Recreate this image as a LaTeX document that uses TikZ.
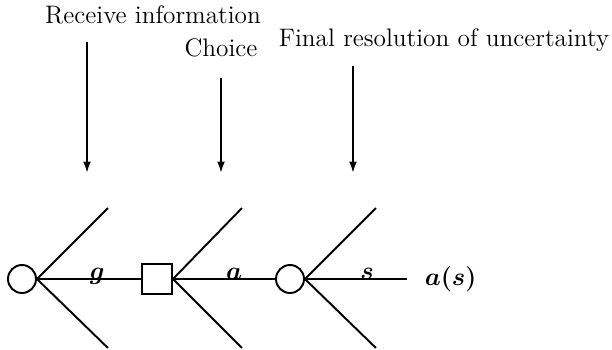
\documentclass[tikz,border=0pt]{standalone}
\usepackage{amsmath}
\usetikzlibrary{arrows.meta, positioning, calc}

\begin{document}
\begin{tikzpicture}[
  x=0.02cm, y=-0.02cm,
  line width=1.1pt,
  > = {Latex[length=6.5pt, width=4.5pt]},
  chance/.style = {draw, circle, minimum size=0.56cm, inner sep=0pt},
  decision/.style = {draw, rectangle, minimum size=0.6cm, inner sep=0pt},
  edge label/.style = {anchor=base, inner sep=0pt, font=\Large\boldmath},
  head/.style = {font=\Large}
]
  \useasboundingbox (0,0) rectangle (612,349);

  % stages
  \node[chance] (first) at (22,279) {};
  \node[decision] (choice) at (157,279) {};
  \node[chance] (last) at (290,279) {};
  \node[anchor=west, font=\Large\boldmath] (payoff) at (418,279) {$a(s)$};

  % branches
  \draw (first.east) -- ++(71,-71);
  \draw (first.east) -- ++(71,69);
  \draw (choice.east) -- ++(69,-71);
  \draw (choice.east) -- ++(69,69);
  \draw (last.east) -- ++(71,-71);
  \draw (last.east) -- ++(71,69);

  \draw (first) -- node[edge label, pos=0.58] {$g$} (choice);
  \draw (choice) -- node[edge label, pos=0.6] {$a$} (last);
  \draw[shorten >=6pt] (last) -- node[edge label, pos=0.55] {$s$} (payoff);

  % timing
  \node[head] (info) at (153,15) {Receive information};
  \node[head] (pick) at (221,48) {Choice};
  \node[head] (resolve) at (444,40) {Final resolution of uncertainty};

  \coordinate (info top) at (87,42);
  \coordinate (info tip) at (87,173);
  \coordinate (pick top) at (221,78);
  \coordinate (pick tip) at (221,173);
  \coordinate (resolve top) at (353,66);
  \coordinate (resolve tip) at (353,173);

  \draw[->] (info top) -- (info tip);
  \draw[->] (pick top) -- (pick tip);
  \draw[->] (resolve top) -- (resolve tip);
\end{tikzpicture}
\end{document}
